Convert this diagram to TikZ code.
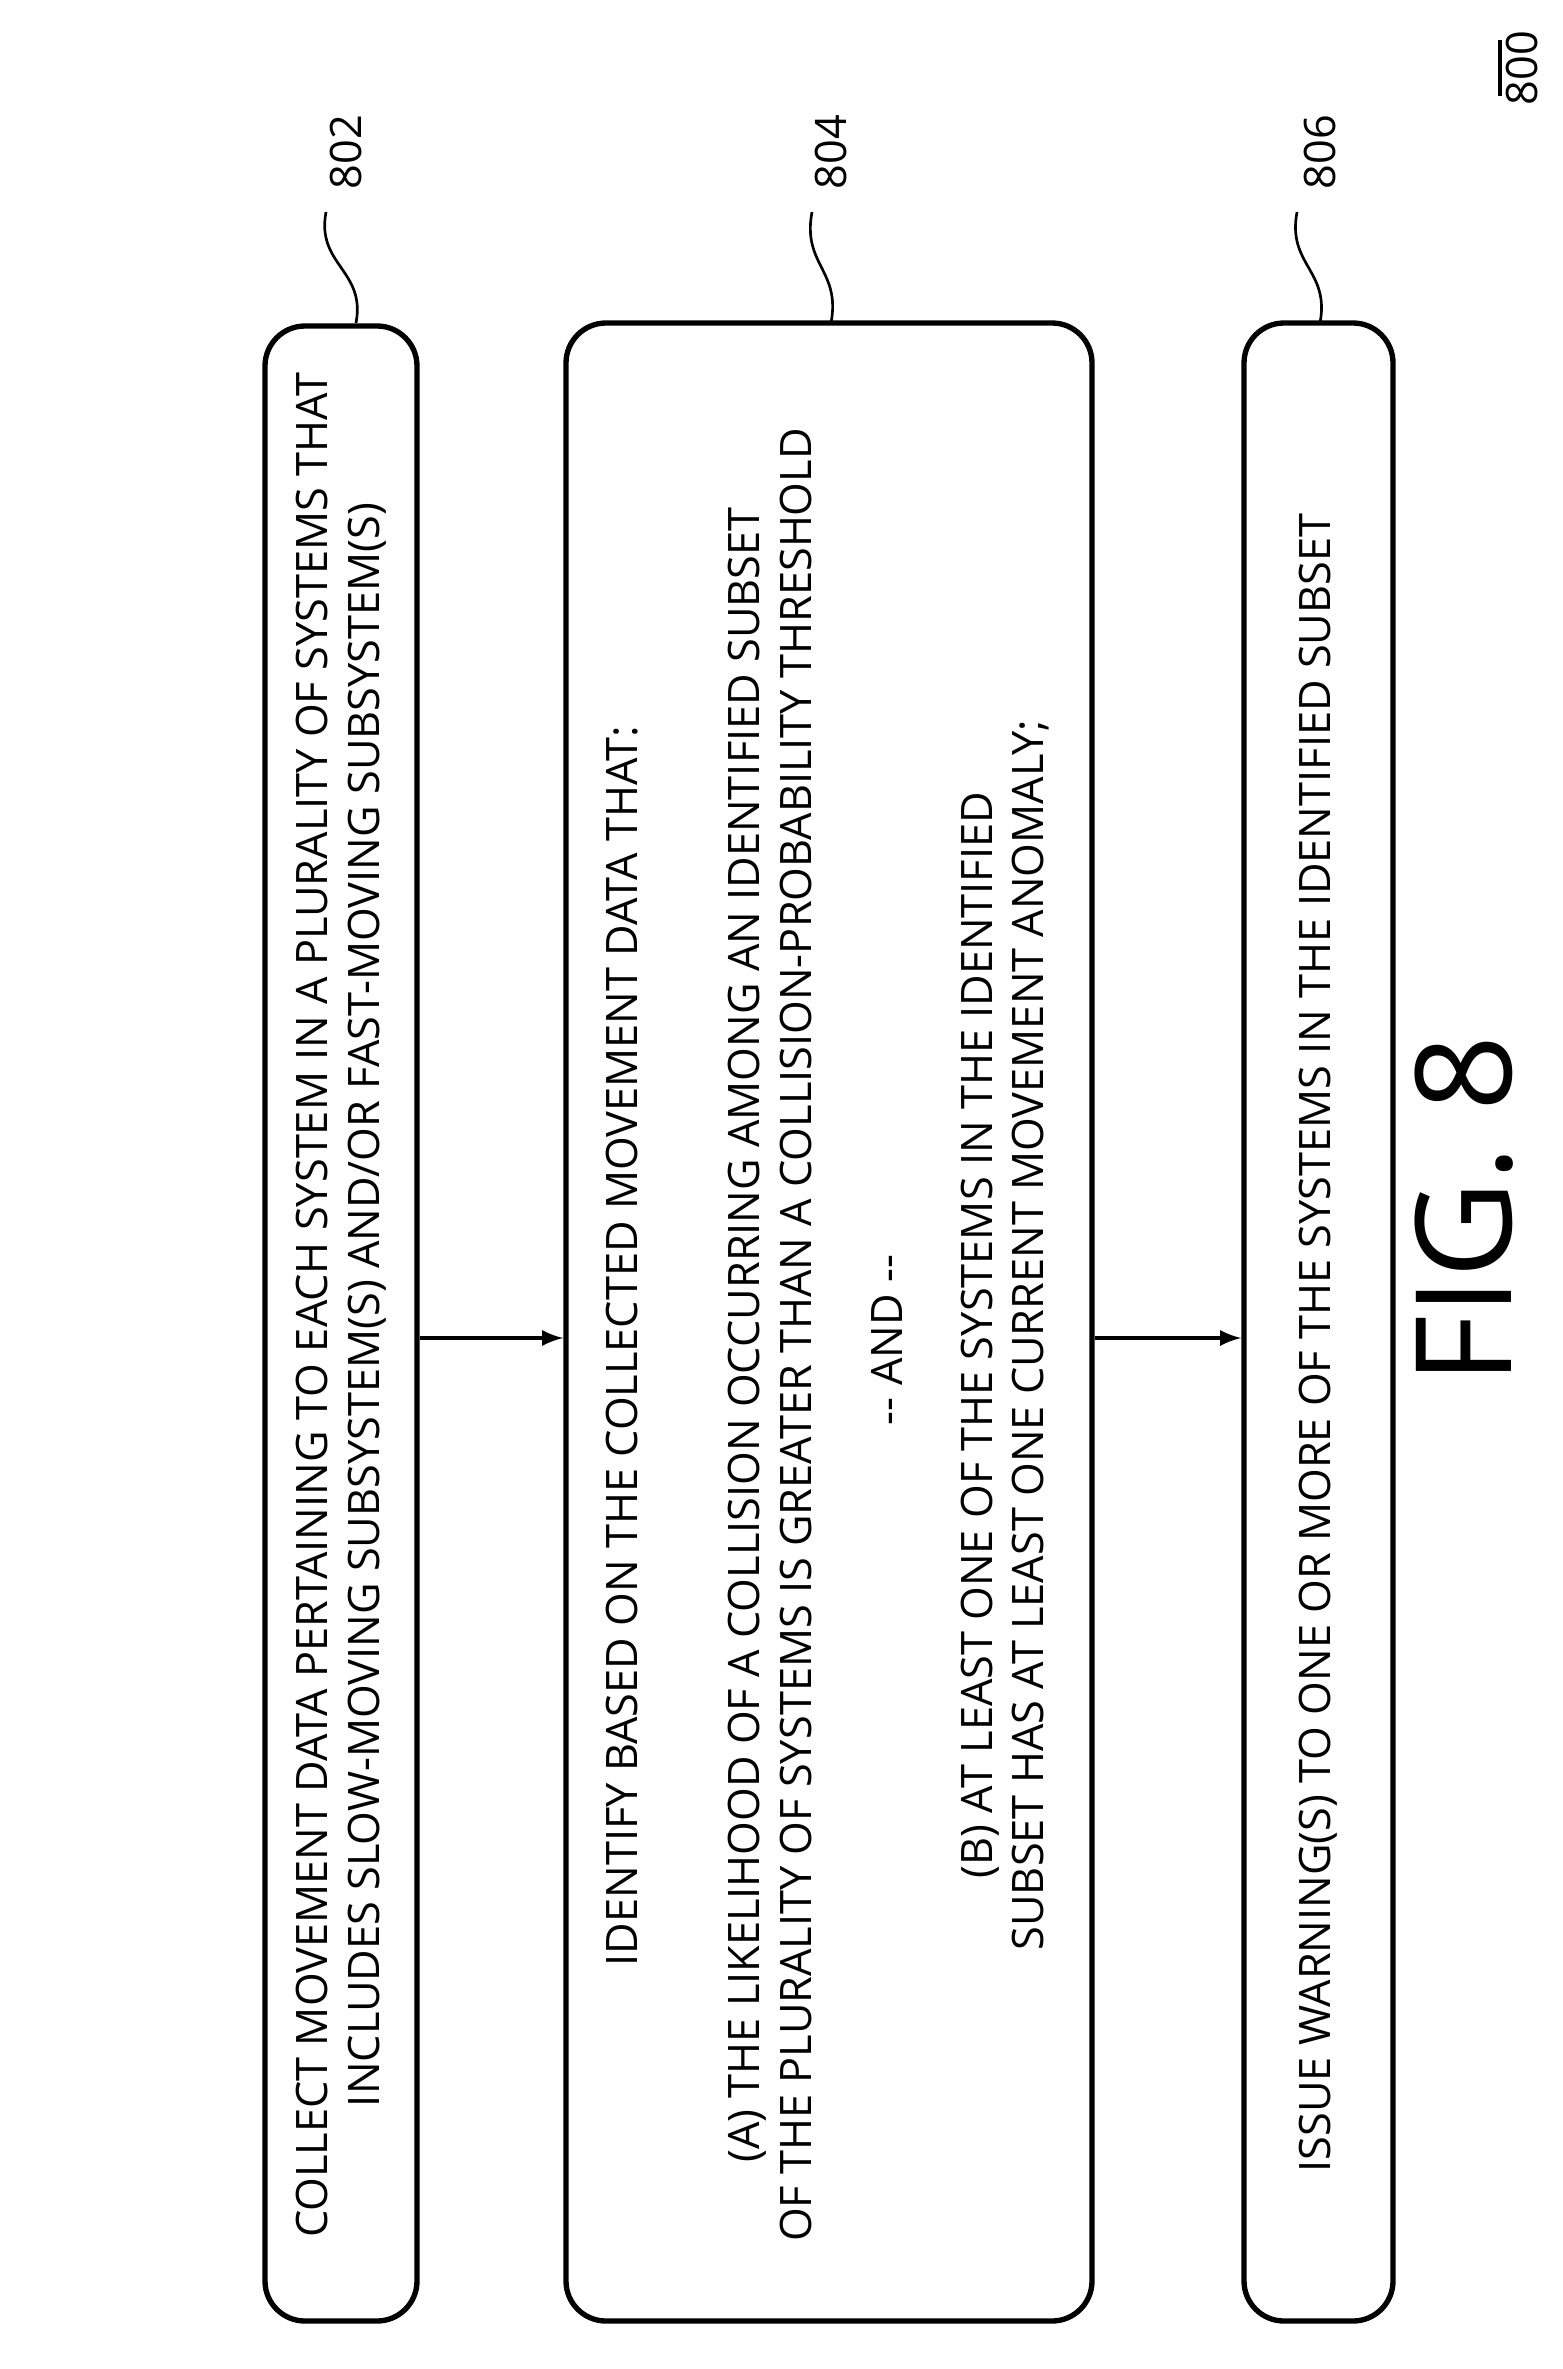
\documentclass[tikz,border=0pt]{standalone}
\usepackage{fontspec}
\setmainfont{Open Sans}
\begin{document}
\begin{tikzpicture}[x=0.3pt,y=-0.3pt,
  boxx/.style={draw,line width=1.6pt,rounded corners=12pt},
  txt/.style={rotate=90,align=center,font=\fontsize{13}{15.5}\selectfont,inner sep=0pt},
  arr/.style={-latex,line width=1.2pt},
  sq/.style={line width=0.8pt}]
\useasboundingbox (0,0) rectangle (1563,2369);
\node[boxx,minimum width=152*0.3pt,minimum height=1995*0.3pt] (b1) at (341,1323.5) {};
\node[boxx,minimum width=526*0.3pt,minimum height=1998*0.3pt] (b2) at (829,1322) {};
\node[boxx,minimum width=149*0.3pt,minimum height=1998*0.3pt] (b3) at (1318.5,1322) {};
\node[txt] (t1) at (341,1305) {COLLECT MOVEMENT DATA PERTAINING TO EACH SYSTEM IN A PLURALITY OF SYSTEMS THAT\\INCLUDES SLOW-MOVING SUBSYSTEM(S) AND/OR FAST-MOVING SUBSYSTEM(S)};
\node[txt] (t2) at (622,1346) {IDENTIFY BASED ON THE COLLECTED MOVEMENT DATA THAT:};
\node[txt] (t3) at (770,1335) {(A) THE LIKELIHOOD OF A COLLISION OCCURRING AMONG AN IDENTIFIED SUBSET\\OF THE PLURALITY OF SYSTEMS IS GREATER THAN A COLLISION-PROBABILITY THRESHOLD};
\node[txt] (t4) at (887,1340) {\mbox{-}\mbox{-} AND \mbox{-}\mbox{-}};
\node[txt] (t5) at (1005,1335) {(B) AT LEAST ONE OF THE SYSTEMS IN THE IDENTIFIED\\SUBSET HAS AT LEAST ONE CURRENT MOVEMENT ANOMALY;};
\node[txt] (t6) at (1318,1343) {ISSUE WARNING(S) TO ONE OR MORE OF THE SYSTEMS IN THE IDENTIFIED SUBSET};
\draw[arr] (b1.east |- 0,1338) -- (b2.west |- 0,1338);
\draw[arr] (b2.east |- 0,1338) -- (b3.west |- 0,1338);
\coordinate (s1a) at (356,323); \coordinate (s1b) at (326,212);
\coordinate (s2a) at (831,323); \coordinate (s2b) at (812,212);
\coordinate (s3a) at (1320,323); \coordinate (s3b) at (1297,212);
\draw[sq] (s1a) .. controls (366,270) and (316,265) .. (s1b);
\draw[sq] (s2a) .. controls (841,270) and (802,265) .. (s2b);
\draw[sq] (s3a) .. controls (1330,270) and (1287,265) .. (s3b);
\node[txt] (l1) at (346,152) {802};
\node[txt] (l2) at (831,152) {804};
\node[txt] (l3) at (1320,152) {806};
\node[txt] (l0) at (1522,68) {800};
\coordinate (u1) at (1500,40); \coordinate (u2) at (1500,96);
\draw[line width=1pt] (u1) -- (u2);
\node[rotate=90,font=\fontsize{40}{42}\selectfont] (fig) at (1464,1210) {FIG. 8};
\end{tikzpicture}
\end{document}
